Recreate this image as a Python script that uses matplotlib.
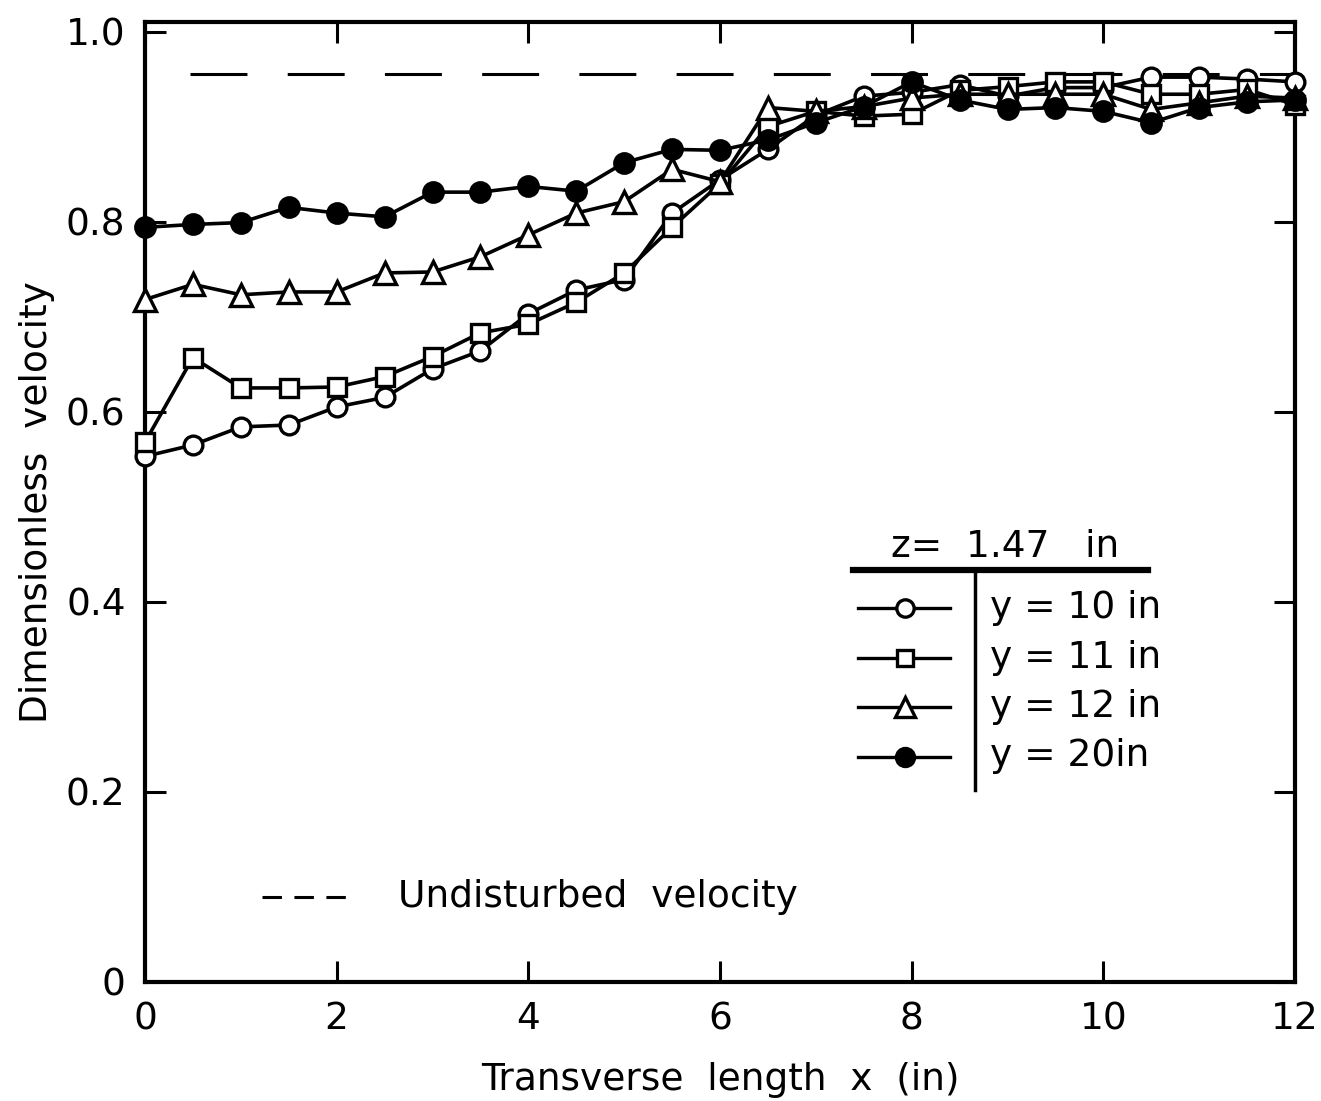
import numpy as np
import matplotlib.pyplot as plt

plt.rcParams['font.family'] = ['DejaVu Sans']
plt.rcParams['lines.scale_dashes'] = False

# transverse positions (in)
x = np.arange(0, 12.01, 0.5)

# dimensionless velocity, z = 1.47 in
v_y10 = [0.553, 0.565, 0.584, 0.586, 0.605, 0.615, 0.645, 0.664, 0.703, 0.728,
         0.739, 0.809, 0.844, 0.876, 0.912, 0.932, 0.936, 0.944, 0.932, 0.941,
         0.941, 0.952, 0.952, 0.950, 0.947]
v_y11 = [0.568, 0.657, 0.625, 0.625, 0.626, 0.637, 0.658, 0.683, 0.692, 0.715,
         0.746, 0.794, 0.840, 0.900, 0.916, 0.911, 0.913, 0.938, 0.942, 0.947,
         0.947, 0.934, 0.934, 0.939, 0.923]
v_y12 = [0.718, 0.734, 0.723, 0.726, 0.726, 0.746, 0.747, 0.763, 0.786, 0.809,
         0.821, 0.855, 0.842, 0.920, 0.916, 0.921, 0.930, 0.934, 0.934, 0.934,
         0.934, 0.918, 0.925, 0.932, 0.930]
v_y20 = [0.794, 0.797, 0.799, 0.815, 0.809, 0.805, 0.831, 0.831, 0.837, 0.832,
         0.862, 0.876, 0.875, 0.886, 0.904, 0.921, 0.947, 0.928, 0.918, 0.920,
         0.916, 0.904, 0.920, 0.926, 0.928]
undisturbed = 0.955

series = [v_y10, v_y11, v_y12, v_y20]
labels = ['y = 10 in', 'y = 11 in', 'y = 12 in', 'y = 20in']
markers = ['o', 's', '^', 'o']
fills = ['white', 'white', 'white', 'black']
msizes = [13.5, 13, 16, 14]

fig = plt.figure(figsize=(13.21, 11.01), dpi=100)
ax = fig.add_axes([145/1321, 1-982/1101, 1150/1321, 960/1101])

# undisturbed velocity
ax.plot([0.47, 12], [undisturbed, undisturbed], color='black', lw=2.2,
        linestyle=(0, (41, 29)), zorder=1)

for v, m, fc, ms in zip(series, markers, fills, msizes):
    ax.plot(x, v, color='black', lw=2.6, marker=m, ms=ms, mfc=fc,
            mec='black', mew=2.4, clip_on=False, zorder=3)

ax.set_xlim(0, 12)
ax.set_ylim(0, 1.01)
ax.set_xticks(range(0, 13, 2))
ax.set_yticks([0, 0.2, 0.4, 0.6, 0.8, 1.0])
ax.set_yticklabels(['0', '0.2', '0.4', '0.6', '0.8', '1.0'])
ax.tick_params(direction='in', length=15, width=2.2, top=True, right=True,
               labelsize=27, pad=14)
for s in ax.spines.values():
    s.set_linewidth(3)
ax.set_xlabel('Transverse  length  x  (in)', fontsize=27, labelpad=18)
ax.set_ylabel('Dimensionless  velocity', fontsize=27, labelpad=8)


def axc(px, py):
    return (px - 145) / 1150, (982 - py) / 960


# table-style legend
t = ax.transAxes
ax.text(*axc(1005, 547), 'z=  1.47   in', fontsize=27, ha='center', va='center',
        transform=t)
ax.plot(*zip(axc(853, 570), axc(1148, 570)), color='black', lw=4.5, transform=t)
ax.plot(*zip(axc(975, 570), axc(975, 790)), color='black', lw=2.5, transform=t)
for i, (lab, m, fc, ms) in enumerate(zip(labels, markers, fills, msizes)):
    yy = 608 + i * 49.5
    ax.plot(*zip(axc(858, yy), axc(950, yy)), color='black', lw=2.4, transform=t)
    ax.plot(*axc(905, yy), marker=m, ms=ms - 1, mfc=fc, mec='black', mew=2.4,
            transform=t)
    ax.text(*axc(990, yy), lab, fontsize=27, ha='left', va='center', transform=t)

ax.plot(*zip(axc(262, 897), axc(347, 897)), color='black', lw=2.2,
        linestyle=(0, (14, 9)), transform=t)
ax.text(*axc(398, 897), 'Undisturbed  velocity', fontsize=27, ha='left',
        va='center', transform=t)

fig.savefig('out.png', dpi=100)
